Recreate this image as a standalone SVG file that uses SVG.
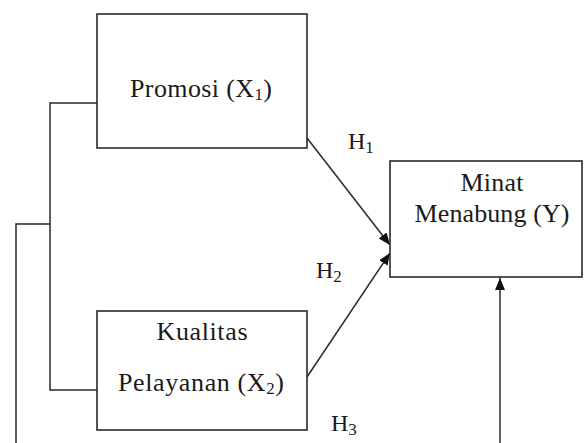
<svg xmlns="http://www.w3.org/2000/svg" width="584" height="443" viewBox="0 0 584 443">
<style>
.box{fill:#fff;stroke:#2a2a2a;stroke-width:1.6}
.ln{fill:none;stroke:#2a2a2a;stroke-width:1.5}
.t{font-family:"Liberation Serif","Times New Roman",serif;font-size:26px;fill:#1a1a1a;text-anchor:middle}
.h{font-family:"Liberation Serif","Times New Roman",serif;font-size:24px;fill:#1a1a1a}
.sub{font-size:17px}
</style>
<defs>
<marker id="arr" markerUnits="userSpaceOnUse" markerWidth="14" markerHeight="12" refX="12" refY="5" orient="auto">
<path d="M0,0 L12,5 L0,10 Z" fill="#111"/>
</marker>
</defs>
<rect width="584" height="443" fill="#fff"/>
<g id="connectors">
<polyline class="ln" points="97,103 50,103 50,390 97,390"/>
<path class="ln" d="M50,224 H16 V460 H500 V278" marker-end="url(#arr)"/>
<line class="ln" x1="307" y1="138" x2="390" y2="245" marker-end="url(#arr)"/>
<line class="ln" x1="307" y1="377" x2="390" y2="253" marker-end="url(#arr)"/>
<text class="h" x="348" y="149">H<tspan class="sub" dy="4">1</tspan></text>
<text class="h" x="316" y="278">H<tspan class="sub" dy="4">2</tspan></text>
<text class="h" x="331" y="431">H<tspan class="sub" dy="4">3</tspan></text>
</g>
<g id="promosi">
<rect class="box" x="97" y="14" width="210" height="134"/>
<text class="t" x="201" y="97" textLength="142" lengthAdjust="spacing">Promosi (X<tspan class="sub" dy="3">1</tspan><tspan dy="-3">)</tspan></text>
</g>
<g id="kualitas">
<rect class="box" x="97" y="311" width="210" height="119"/>
<text class="t" x="202" y="340" textLength="91" lengthAdjust="spacing">Kualitas</text>
<text class="t" x="201" y="391" textLength="166" lengthAdjust="spacing">Pelayanan (X<tspan class="sub" dy="3">2</tspan><tspan dy="-3">)</tspan></text>
</g>
<g id="minat">
<rect class="box" x="390" y="161" width="192" height="116"/>
<text class="t" x="492" y="191" textLength="63" lengthAdjust="spacing">Minat</text>
<text class="t" x="492" y="222" textLength="155" lengthAdjust="spacing">Menabung (Y)</text>
</g>
</svg>
